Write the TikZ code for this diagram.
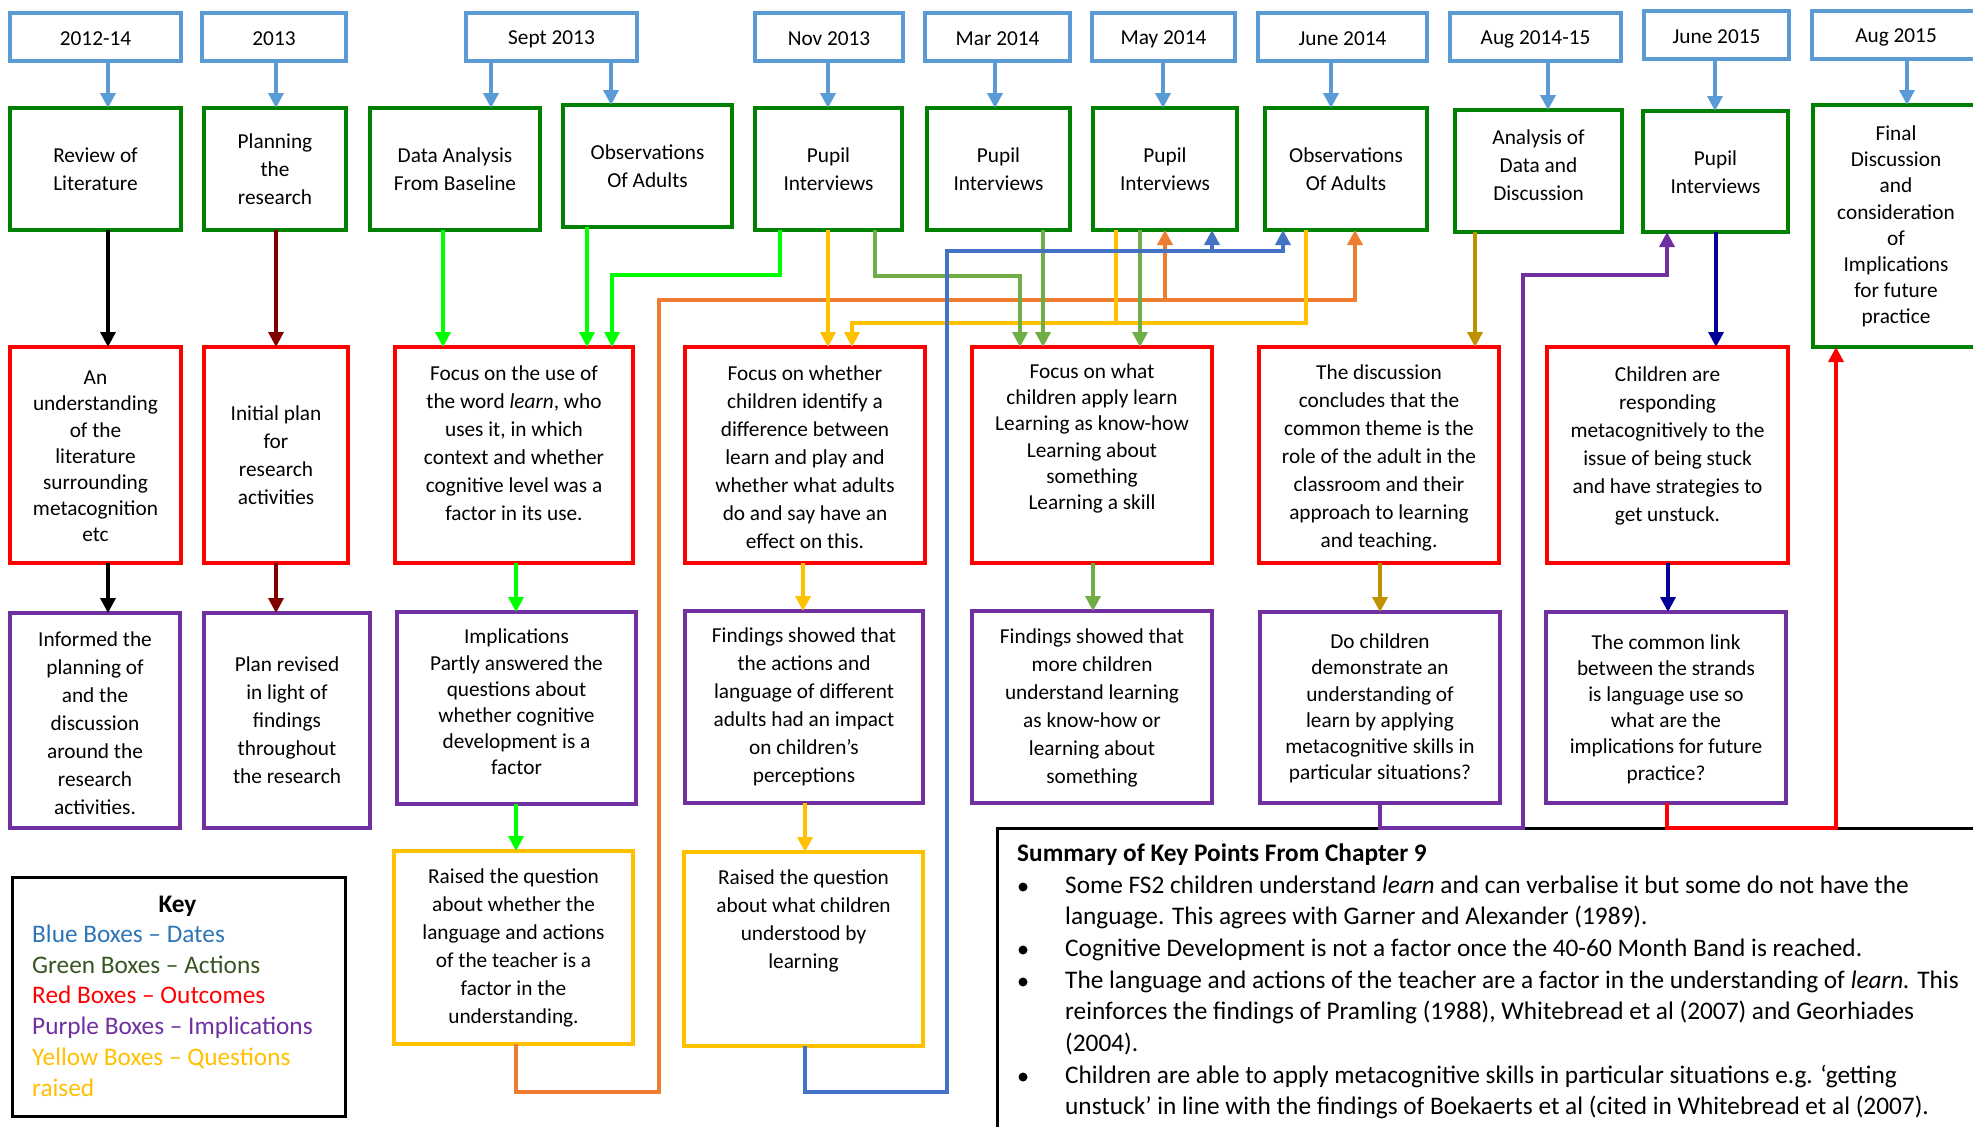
\documentclass[tikz,border=0pt]{standalone}
\usepackage{fontspec}
\setmainfont{Carlito}
\usetikzlibrary{arrows.meta,calc}
\definecolor{dateblue}{HTML}{5B9BD5}
\definecolor{actgreen}{HTML}{008000}
\definecolor{outred}{HTML}{FF0000}
\definecolor{imppurple}{HTML}{7030A0}
\definecolor{qyellow}{HTML}{FFC000}
\definecolor{brgreen}{HTML}{00FF00}
\definecolor{conolive}{HTML}{70AD47}
\definecolor{conorange}{HTML}{ED7D31}
\definecolor{conblue}{HTML}{4472C4}
\definecolor{goldrod}{HTML}{BF9000}
\definecolor{navyblue}{HTML}{000099}
\definecolor{maroonred}{HTML}{800000}
\definecolor{keyblue}{HTML}{2E75B6}
\definecolor{keygreen}{HTML}{375623}
\newcommand\mybox[6]{\node[boxst,draw=#2,minimum width={#5-#3},minimum height={#6-#4},anchor=north west] (#1) at (#3,#4) {};}
\begin{document}
\begin{tikzpicture}[x=1pt,y=-1pt,
  boxst/.style={line width=4pt,inner sep=0pt,outer sep=0pt},
  con/.style={line width=3.5pt},
  arr/.style={con,-{Triangle[width=15pt,length=15pt]}},
  txt/.style={align=center,inner sep=0pt,font=\fontsize{21.3}{28}\selectfont},
  txts/.style={align=center,inner sep=0pt,font=\fontsize{21.3}{26.2}\selectfont},
  big/.style={inner sep=0pt,font=\fontsize{25.3}{31.6}\selectfont},
  bul/.style={circle,fill=black,inner sep=0pt,minimum size=9pt},
]
\useasboundingbox (0,0) rectangle (1973,1127);
\fill[white] (0,0) rectangle (1973,1127);
\clip (0,0) rectangle (1973,1127);

% date boxes
\mybox{d1}{dateblue}{10}{13}{181}{61}
\mybox{d2}{dateblue}{202}{13}{346}{61}
\mybox{d3}{dateblue}{466}{13}{637}{61}
\mybox{d4}{dateblue}{755}{13}{903}{61}
\mybox{d5}{dateblue}{925}{13}{1070}{61}
\mybox{d6}{dateblue}{1092}{13}{1235}{61}
\mybox{d7}{dateblue}{1258}{13}{1427}{61}
\mybox{d8}{dateblue}{1450}{13}{1621}{61}
\mybox{d9}{dateblue}{1644}{11}{1789}{59}
\mybox{d10}{dateblue}{1812}{11}{1982}{59}
\node[txt] (td1) at (95.5,39) {2012-14};
\node[txt] (td2) at (274,39) {2013};
\node[txt] (td3) at (551.5,39) {Sept 2013};
\node[txt] (td4) at (829,39) {Nov 2013};
\node[txt] (td5) at (997.5,39) {Mar 2014};
\node[txt] (td6) at (1163.5,39) {May 2014};
\node[txt] (td7) at (1342.5,39) {June 2014};
\node[txt] (td8) at (1535.5,39) {Aug 2014-15};
\node[txt] (td9) at (1716.5,37) {June 2015};
\node[txt] (td10) at (1896,37) {Aug 2015};

% action boxes
\mybox{g1}{actgreen}{10}{108}{181}{230}
\mybox{g2}{actgreen}{204}{108}{346}{230}
\mybox{g3}{actgreen}{370}{108}{540}{230}
\mybox{g4}{actgreen}{563}{105}{732}{227}
\mybox{g5}{actgreen}{755}{108}{902}{230}
\mybox{g6}{actgreen}{927}{108}{1070}{230}
\mybox{g7}{actgreen}{1093}{108}{1237}{230}
\mybox{g8}{actgreen}{1265}{108}{1427}{230}
\mybox{g9}{actgreen}{1455}{110}{1622}{232}
\mybox{g10}{actgreen}{1643}{111}{1788}{232}
\mybox{g11}{actgreen}{1813}{105}{1982}{347}
\node[txt] (tg1) at (95.5,169) {Review of\\Literature};
\node[txt] (tg2) at (275,169) {Planning\\the\\research};
\node[txt] (tg3) at (455,169) {Data Analysis\\From Baseline};
\node[txt] (tg4) at (647.5,166) {Observations\\Of Adults};
\node[txt] (tg5) at (828.5,169) {Pupil\\Interviews};
\node[txt] (tg6) at (998.5,169) {Pupil\\Interviews};
\node[txt] (tg7) at (1165,169) {Pupil\\Interviews};
\node[txt] (tg8) at (1346,169) {Observations\\Of Adults};
\node[txt] (tg9) at (1538.5,165) {Analysis of\\Data and\\Discussion};
\node[txt] (tg10) at (1715.5,172) {Pupil\\Interviews};
\node[txts] (tg11) at (1896,226.5) {Final\\Discussion\\and\\consideration\\of\\Implications\\for future\\practice};

% outcome boxes
\mybox{r1}{outred}{10}{347}{181}{563}
\mybox{r2}{outred}{204}{347}{348}{563}
\mybox{r3}{outred}{395}{347}{633}{563}
\mybox{r4}{outred}{685}{347}{925}{563}
\mybox{r5}{outred}{972}{347}{1212}{563}
\mybox{r6}{outred}{1259}{347}{1499}{563}
\mybox{r7}{outred}{1547}{347}{1788}{563}
\node[txts] (tr1) at (95.5,456.5) {An\\understanding\\of the\\literature\\surrounding\\metacognition\\etc};
\node[txt] (tr2) at (276,455) {Initial plan\\for\\research\\activities};
\node[txt] (tr3) at (514,443.5) {Focus on the use of\\the word \textit{learn}, who\\uses it, in which\\context and whether\\cognitive level was a\\factor in its use.};
\node[txt] (tr4) at (805,457.5) {Focus on whether\\children identify a\\difference between\\learn and play and\\whether what adults\\do and say have an\\effect on this.};
\node[txts] (tr5) at (1092,438.5) {Focus on what\\children apply learn\\Learning as know-how\\Learning about\\something\\Learning a skill};
\node[txt] (tr6) at (1379,457.5) {The discussion\\concludes that the\\common theme is the\\role of the adult in the\\classroom and their\\approach to learning\\and teaching.};
\node[txt] (tr7) at (1667.5,445.5) {Children are\\responding\\metacognitively to the\\issue of being stuck\\and have strategies to\\get unstuck.};

% implication boxes
\mybox{p1}{imppurple}{10}{613}{180}{828}
\mybox{p2}{imppurple}{204}{613}{370}{828}
\mybox{p3}{imppurple}{397}{612}{636}{804}
\mybox{p4}{imppurple}{685}{611}{923}{803}
\mybox{p5}{imppurple}{972}{611}{1212}{803}
\mybox{p6}{imppurple}{1260}{612}{1500}{803}
\mybox{p7}{imppurple}{1546}{612}{1786}{803}
\node[txt] (tp1) at (95,723) {Informed the\\planning of\\and the\\discussion\\around the\\research\\activities.};
\node[txt] (tp2) at (287,720) {Plan revised\\in light of\\findings\\throughout\\the research};
\node[txts] (tp3) at (516.5,702) {Implications\\Partly answered the\\questions about\\whether cognitive\\development is a\\factor};
\node[txt] (tp4) at (804,707) {Findings showed that\\the actions and\\language of different\\adults had an impact\\on children’s\\perceptions};
\node[txt] (tp5) at (1092,707.5) {Findings showed that\\more children\\understand learning\\as know-how or\\learning about\\something};
\node[txts] (tp6) at (1380,708.5) {Do children\\demonstrate an\\understanding of\\learn by applying\\metacognitive skills in\\particular situations?};
\node[txts] (tp7) at (1666,709) {The common link\\between the strands\\is language use so\\what are the\\implications for future\\practice?};

% question boxes
\mybox{y1}{qyellow}{394}{851}{633}{1044}
\mybox{y2}{qyellow}{684}{852}{923}{1046}
\node[txt] (ty1) at (513.5,947.5) {Raised the question\\about whether the\\language and actions\\of the teacher is a\\factor in the\\understanding.};
\node[txt] (ty2) at (803.5,920.5) {Raised the question\\about what children\\understood by\\learning};

% key
\node[draw=black,line width=3pt,inner sep=0pt,minimum width=333,minimum height=239,anchor=north west] (key) at (11,876) {};
\node[big,anchor=base,font=\fontsize{25.3}{31.6}\selectfont\bfseries] (keyt) at (177.5,912) {Key};
\node[big,anchor=base west,text=keyblue] (k1) at (32,942) {Blue Boxes – Dates};
\node[big,anchor=base west,text=keygreen] (k2) at (32,973) {Green Boxes – Actions};
\node[big,anchor=base west,text=outred] (k3) at (32,1003) {Red Boxes – Outcomes};
\node[big,anchor=base west,text=imppurple] (k4) at (32,1034) {Purple Boxes – Implications};
\node[big,anchor=base west,text=qyellow] (k5) at (32,1065) {Yellow Boxes – Questions};
\node[big,anchor=base west,text=qyellow] (k6) at (32,1096) {raised};

% summary
\node[draw=black,line width=2.5pt,inner sep=0pt,minimum width=1010,minimum height=320,anchor=north west] (sum) at (996,827) {};
\node[big,anchor=base west,font=\fontsize{25.3}{31.6}\selectfont\bfseries] (st) at (1017,861) {Summary of Key Points From Chapter 9};
\node[bul] (b1) at (1023,887) {};
\node[bul] (b2) at (1023,950) {};
\node[bul] (b3) at (1023,982) {};
\node[bul] (b4) at (1023,1077) {};
\node[big,anchor=base west] (s1) at (1065,893) {Some FS2 children understand \textit{learn} and can verbalise it but some do not have the};
\node[big,anchor=base west] (s2) at (1065,924) {language. This agrees with Garner and Alexander (1989).};
\node[big,anchor=base west] (s3) at (1065,956) {Cognitive Development is not a factor once the 40-60 Month Band is reached.};
\node[big,anchor=base west] (s4) at (1065,988) {The language and actions of the teacher are a factor in the understanding of \textit{learn.} This};
\node[big,anchor=base west] (s5) at (1065,1019) {reinforces the findings of Pramling (1988), Whitebread et al (2007) and Georhiades};
\node[big,anchor=base west] (s6) at (1065,1051) {(2004).};
\node[big,anchor=base west] (s7) at (1065,1083) {Children are able to apply metacognitive skills in particular situations e.g. ‘getting};
\node[big,anchor=base west] (s8) at (1065,1114) {unstuck’ in line with the findings of Boekaerts et al (cited in Whitebread et al (2007).};

% date arrows
\draw[arr,color=dateblue] (108,0 |- d1.south) -- (108,0 |- g1.north);
\draw[arr,color=dateblue] (276,0 |- d2.south) -- (276,0 |- g2.north);
\draw[arr,color=dateblue] (491,0 |- d3.south) -- (491,0 |- g3.north);
\draw[arr,color=dateblue] (611,0 |- d3.south) -- (611,0 |- g4.north);
\draw[arr,color=dateblue] (828,0 |- d4.south) -- (828,0 |- g5.north);
\draw[arr,color=dateblue] (995,0 |- d5.south) -- (995,0 |- g6.north);
\draw[arr,color=dateblue] (1163,0 |- d6.south) -- (1163,0 |- g7.north);
\draw[arr,color=dateblue] (1331,0 |- d7.south) -- (1331,0 |- g8.north);
\draw[arr,color=dateblue] (1548,0 |- d8.south) -- (1548,0 |- g9.north);
\draw[arr,color=dateblue] (1715,0 |- d9.south) -- (1715,0 |- g10.north);
\draw[arr,color=dateblue] (1907,0 |- d10.south) -- (1907,0 |- g11.north);

% column 1, 2
\draw[arr,color=black] (108,0 |- g1.south) -- (108,0 |- r1.north);
\draw[arr,color=black] (108,0 |- r1.south) -- (108,0 |- p1.north);
\draw[arr,color=maroonred] (276,0 |- g2.south) -- (276,0 |- r2.north);
\draw[arr,color=maroonred] (276,0 |- r2.south) -- (276,0 |- p2.north);

% orange and blue loops
\coordinate (oj) at (1165,300);
\coordinate (bj) at (1212,251);
\draw[arr,color=conorange] (516,0 |- y1.south) |- (659,1092) -- (659,300) -| (1355,0 |- g8.south);
\draw[arr,color=conorange] (oj) -- (1165,0 |- g7.south);

% bright green
\draw[arr,color=brgreen] (443,0 |- g3.south) -- (443,0 |- r3.north);
\draw[arr,color=brgreen] (587,0 |- g4.south) -- (587,0 |- r3.north);
\draw[arr,color=brgreen] (780,0 |- g5.south) |- (612,275) -- (612,0 |- r3.north);
\draw[arr,color=brgreen] (516,0 |- r3.south) -- (516,0 |- p3.north);
\draw[arr,color=brgreen] (516,0 |- p3.south) -- (516,0 |- y1.north);

% yellow
\coordinate (yj) at (1116,323);
\draw[arr,color=qyellow] (828,0 |- g5.south) -- (828,0 |- r4.north);
\draw[arr,color=qyellow] (1306,0 |- g8.south) |- (852,323) -- (852,0 |- r4.north);
\draw[con,color=qyellow] (1116,0 |- g7.south) -- (yj);
\draw[arr,color=qyellow] (803,0 |- r4.south) -- (803,0 |- p4.north);
\draw[arr,color=qyellow] (805,0 |- p4.south) -- (805,0 |- y2.north);

% olive
\draw[arr,color=conolive] (875,0 |- g5.south) |- (1020,276) -- (1020,0 |- r5.north);
\draw[arr,color=conolive] (1043,0 |- g6.south) -- (1043,0 |- r5.north);
\draw[arr,color=conolive] (1140,0 |- g7.south) -- (1140,0 |- r5.north);
\draw[arr,color=conolive] (1093,0 |- r5.south) -- (1093,0 |- p5.north);

% blue
\draw[arr,color=conblue] (805,0 |- y2.south) |- (947,1092) -- (947,251) -| (1283,0 |- g8.south);
\draw[arr,color=conblue] (bj) -- (1212,0 |- g7.south);

% right columns
\draw[arr,color=goldrod] (1475,0 |- g9.south) -- (1475,0 |- r6.north);
\draw[arr,color=goldrod] (1380,0 |- r6.south) -- (1380,0 |- p6.north);
\draw[arr,color=imppurple] (1380,0 |- p6.south) |- (1523,828) -- (1523,275) -| (1667,0 |- g10.south);
\draw[arr,color=navyblue] (1716,0 |- g10.south) -- (1716,0 |- r7.north);
\draw[arr,color=navyblue] (1668,0 |- r7.south) -- (1668,0 |- p7.north);
\draw[arr,color=outred] (1667,0 |- p7.south) |- (1836,828) -- (1836,0 |- g11.south);
\end{tikzpicture}
\end{document}
